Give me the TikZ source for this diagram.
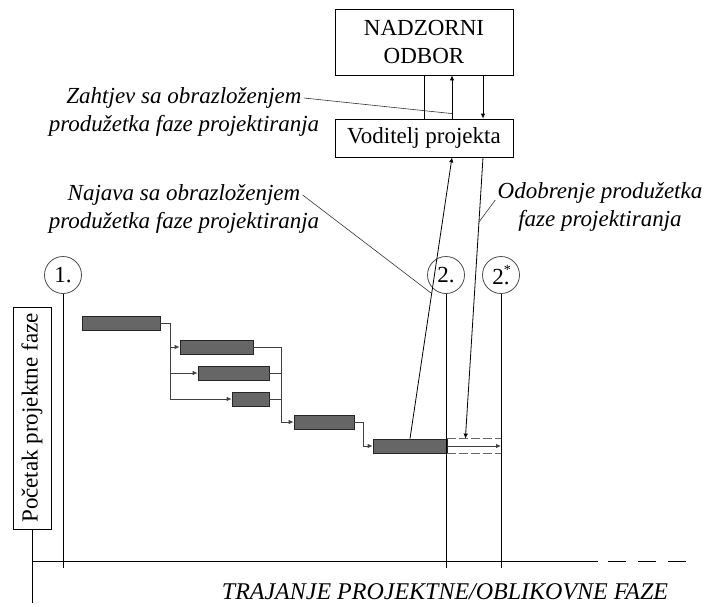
\documentclass[tikz,border=0pt]{standalone}
\usepackage{fontspec}
\setmainfont{Liberation Serif}
\usetikzlibrary{arrows.meta,positioning,calc}

\begin{document}
\begin{tikzpicture}[x=1pt,y=-1pt,line width=0.8pt,>={Latex[length=5pt,width=4.5pt]},
    font=\fontsize{23}{28}\selectfont,
    box/.style={draw,rectangle,minimum width=178pt,align=center,inner sep=2pt},
    note/.style={font=\fontsize{23}{28}\selectfont\itshape,inner sep=2pt,text height=17pt,text depth=6pt},
    taskbar/.style={draw=black!85,fill=black!60,minimum height=14pt,inner sep=0pt},
    milestone/.style={circle,draw=black!70,minimum size=37pt,inner sep=0pt},
    link/.style={->,draw=black!75},
    leader/.style={draw=black!80,line width=0.6pt}]

  \useasboundingbox (0,0) rectangle (707,606);

  % boxes
  \node[box,minimum height=66pt] (nadzor) at (424,42) {NADZORNI\\ODBOR};
  \node[box,minimum height=38pt] (voditelj) at (424,138) {Voditelj projekta};
  \node[draw,rotate=90,minimum width=222pt,minimum height=38pt,inner sep=2pt] (pocetak) at (32,418) {Početak projektne faze};

  % milestones
  \node[milestone] (m1) at (63,275) {1.};
  \node[milestone] (m2) at (446,275) {2.};
  \node[milestone] (m3) at (501,275) {2\rlap{\raisebox{0.45em}{\fontsize{14}{14}\selectfont *}}.};

  % activities
  \node[taskbar,minimum width=78pt] (b1) at (121,323) {};
  \node[taskbar,minimum width=73pt] (b2) at (216.5,347) {};
  \node[taskbar,minimum width=71pt] (b3) at (233.5,373) {};
  \node[taskbar,minimum width=37pt] (b4) at (250.5,399) {};
  \node[taskbar,minimum width=60pt] (b5) at (324,422) {};
  \node[taskbar,minimum width=74pt] (b6) at (410,446) {};

  \coordinate (j1) at (170,0);
  \coordinate (j2) at (281,0);
  \coordinate (j3) at (363,0);
  \draw[link] (b1.east) -| (j1 |- b2.west) -- (b2.west);
  \draw[link] (j1 |- b1.east) |- (b3.west);
  \draw[link] (j1 |- b1.east) |- (b4.west);
  \draw[link] (b2.east) -| (j2 |- b5.west) -- (b5.west);
  \draw[draw=black!75] (b3.east) -- (b3.east -| j2);
  \draw[draw=black!75] (b4.east) -- (b4.east -| j2);
  \draw[link] (b5.east) -| (j3 |- b6.west) -- (b6.west);

  % extension
  \draw[draw=black!60,dash pattern=on 9pt off 3pt] (b6.north east) -- (m3 |- b6.north);
  \draw[draw=black!60,dash pattern=on 9pt off 3pt] (b6.south east) -- (m3 |- b6.south);
  \draw[link] (b6.east) -- (m3 |- b6.east);

  % time axis
  \coordinate (o) at (32,561);
  \coordinate (axend) at (598,561);
  \coordinate (axtip) at (688,561);
  \coordinate (bot) at (0,568);
  \coordinate (low) at (0,603);
  \draw (o) -- (axend);
  \draw[dash pattern=on 18pt off 12pt] ([xshift=10pt]axend) -- (axtip);
  \draw (pocetak.west) -- (pocetak.west |- low);
  \draw (m1.south) -- (m1.south |- bot);
  \draw (m2.south) -- (m2.south |- bot);
  \draw (m3.south) -- (m3.south |- bot);
  \node[font=\fontsize{24}{28}\selectfont\itshape] (trajanje) at (445,592) {TRAJANJE PROJEKTNE/OBLIKOVNE FAZE};

  % reporting
  \coordinate (up) at ([xshift=28pt]voditelj.south);
  \coordinate (dn) at ([xshift=18pt]b6.north east);
  \draw (voditelj.north) -- (nadzor.south);
  \draw[->] ([xshift=28pt]voditelj.north) -- ([xshift=28pt]nadzor.south);
  \draw[->] ([xshift=59pt]nadzor.south) -- ([xshift=59pt]voditelj.north);
  \draw[->] (b6.north) -- (up);
  \draw[->] ([xshift=59pt]voditelj.south) -- (dn);

  % notes
  \node[note] (zahtjev) at (184,98) {Zahtjev sa obrazloženjem};
  \node[note,below=0pt of zahtjev] (zahtjev2) {produžetka faze projektiranja};
  \node[note] (najava) at (184,195) {Najava sa obrazloženjem};
  \node[note,below=0pt of najava] (najava2) {produžetka faze projektiranja};
  \node[note] (odobrenje) at (600,193) {Odobrenje produžetka};
  \node[note,below=0pt of odobrenje] (odobrenje2) {faze projektiranja};

  \draw[leader] (zahtjev.east) -- ([xshift=28pt,yshift=5pt]voditelj.north);
  \draw[leader] (najava.east) -- ($(b6.north)!0.516!(up)$);
  \draw[leader] ([yshift=-7pt]odobrenje.west) -- ($([xshift=59pt]voditelj.south)!0.23!(dn)$);
\end{tikzpicture}
\end{document}
